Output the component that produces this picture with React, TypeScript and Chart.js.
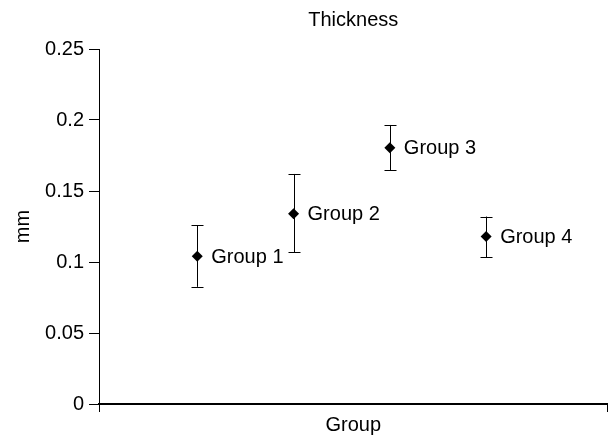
import { useEffect, useRef } from 'react';
import { Chart, registerables } from 'chart.js';

Chart.register(...registerables);

const groups = ['Group 1', 'Group 2', 'Group 3', 'Group 4'];
const xPositions = [1, 2, 3, 4];
const means = [0.104, 0.134, 0.1805, 0.118];
const upper = [0.126, 0.162, 0.1965, 0.132];
const lower = [0.0825, 0.107, 0.1645, 0.1035];
const yTicks = [0, 0.05, 0.1, 0.15, 0.2, 0.25];
const xRange = [-0.02, 5.26];

const FONT = 'Arial, "Liberation Sans", sans-serif';

const errorBarPlugin = {
  id: 'errorBars',
  beforeDatasetsDraw(chart: any) {
    const { ctx } = chart;
    const xs = chart.scales.x;
    const ys = chart.scales.y;
    ctx.save();
    ctx.strokeStyle = '#000';
    ctx.lineWidth = 1;
    xPositions.forEach((xv, i) => {
      const px = Math.round(xs.getPixelForValue(xv)) + 0.5;
      const top = ys.getPixelForValue(upper[i]);
      const bot = ys.getPixelForValue(lower[i]);
      ctx.beginPath();
      ctx.moveTo(px, top);
      ctx.lineTo(px, bot);
      ctx.moveTo(px - 6, Math.round(top) + 0.5);
      ctx.lineTo(px + 6, Math.round(top) + 0.5);
      ctx.moveTo(px - 6, Math.round(bot) + 0.5);
      ctx.lineTo(px + 6, Math.round(bot) + 0.5);
      ctx.stroke();
    });
    ctx.restore();
  },
  afterDatasetsDraw(chart: any) {
    const { ctx } = chart;
    const meta = chart.getDatasetMeta(0);
    ctx.save();
    ctx.fillStyle = '#000';
    ctx.font = `20px ${FONT}`;
    ctx.textAlign = 'left';
    ctx.textBaseline = 'middle';
    meta.data.forEach((pt: any, i: number) => {
      ctx.fillText(groups[i], pt.x + 14, pt.y + 1);
    });
    ctx.restore();
  },
};

export default function App() {
  const ref = useRef<HTMLCanvasElement | null>(null);

  useEffect(() => {
    if (!ref.current) return;
    const chart = new Chart(ref.current, {
      type: 'scatter',
      data: {
        datasets: [
          {
            data: xPositions.map((x, i) => ({ x, y: means[i] })),
            pointStyle: 'rectRot',
            pointRadius: 5.5,
            backgroundColor: '#000',
            borderColor: '#000',
            borderWidth: 0,
            showLine: false,
          },
        ],
      },
      options: {
        animation: false,
        responsive: true,
        maintainAspectRatio: false,
        layout: { padding: { left: 0, right: 3, top: 0, bottom: 0 } },
        plugins: {
          legend: { display: false },
          tooltip: { enabled: false },
        },
        scales: {
          x: {
            type: 'linear',
            position: 'bottom',
            min: xRange[0],
            max: xRange[1],
            afterBuildTicks: (s: any) => {
              s.ticks = xRange.map((v) => ({ value: v }));
            },
            afterFit: (s: any) => {
              s.height = 33;
            },
            ticks: { callback: () => '', font: { size: 1 } },
            grid: {
              drawOnChartArea: false,
              drawTicks: true,
              tickLength: 8,
              color: '#000',
              lineWidth: 1,
            },
            border: { display: true, color: '#000', width: 2 },
            title: {
              display: true,
              text: 'Group',
              color: '#000',
              font: { family: FONT, size: 20 },
              padding: { top: 0, bottom: 0 },
            },
          },
          xTop: {
            type: 'linear',
            axis: 'x',
            position: 'top',
            display: true,
            min: xRange[0],
            max: xRange[1],
            afterFit: (s: any) => {
              s.height = 49;
            },
            grid: { display: false },
            border: { display: false },
            ticks: { display: false },
            title: {
              display: true,
              text: 'Thickness',
              color: '#000',
              font: { family: FONT, size: 20 },
              padding: { top: 8, bottom: 0 },
            },
          },
          y: {
            type: 'linear',
            position: 'left',
            min: 0,
            max: 0.25,
            afterBuildTicks: (s: any) => {
              s.ticks = yTicks.map((v) => ({ value: v }));
            },
            afterFit: (s: any) => {
              s.width = 99;
            },
            ticks: {
              color: '#000',
              padding: 5,
              font: { family: FONT, size: 20 },
              callback: (v: any) => String(v),
            },
            grid: {
              drawOnChartArea: false,
              drawTicks: true,
              tickLength: 10,
              color: '#000',
              lineWidth: 1,
            },
            border: { display: true, color: '#000', width: 1 },
            title: {
              display: true,
              text: 'mm',
              color: '#000',
              font: { family: FONT, size: 20 },
              padding: { top: 11, bottom: 0 },
            },
          },
        },
      },
      plugins: [errorBarPlugin],
    } as any);
    return () => chart.destroy();
  }, []);

  return (
    <div style={{ position: 'absolute', left: 0, top: 0, width: 613, height: 437 }}>
      <canvas ref={ref} />
    </div>
  );
}
